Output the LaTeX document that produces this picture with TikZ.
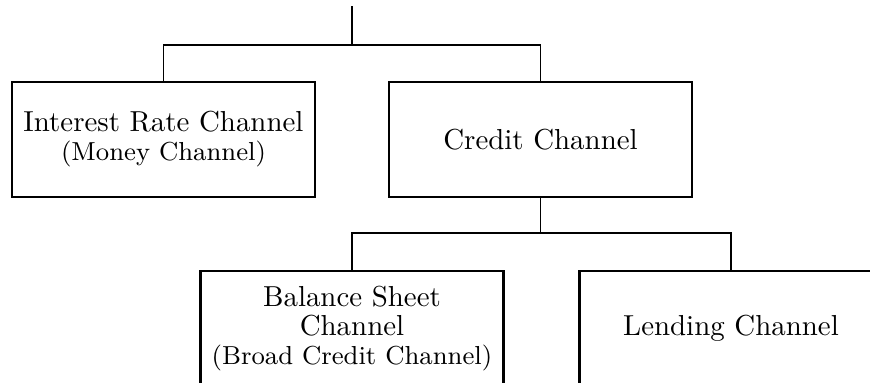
\documentclass[tikz,border=0pt]{standalone}
\begin{document}
\begin{tikzpicture}[x=0.346pt,y=-0.346pt,
  chan/.style={draw,line width=0.95pt,minimum width=104.8pt,minimum height=39.8pt,align=center,inner sep=0pt},
  conn/.style={line width=0.6pt}]
\clip (0,0) rectangle (870,383);
\coordinate (top) at (352,6);
\coordinate (j1) at (352,45);
\coordinate (j2) at (540.5,233);
\node[chan] (b1) at (163.5,139.5) {Interest Rate Channel\\[-2pt]{\small (Money Channel)}};
\node[chan] (b2) at (540.5,139.5) {Credit Channel};
\node[chan] (b3) at (352,328.5) {Balance Sheet\\[-2pt]Channel\\[-2pt]{\small (Broad Credit Channel)}};
\node[chan] (b4) at (731,328.5) {Lending Channel};
\draw[conn] (top) -- (j1);
\draw[conn] (b1.north) |- (j1) -| (b2.north);
\draw[conn] (b2.south) -- (j2);
\draw[conn] (b3.north) |- (j2) -| (b4.north);
\end{tikzpicture}
\end{document}
